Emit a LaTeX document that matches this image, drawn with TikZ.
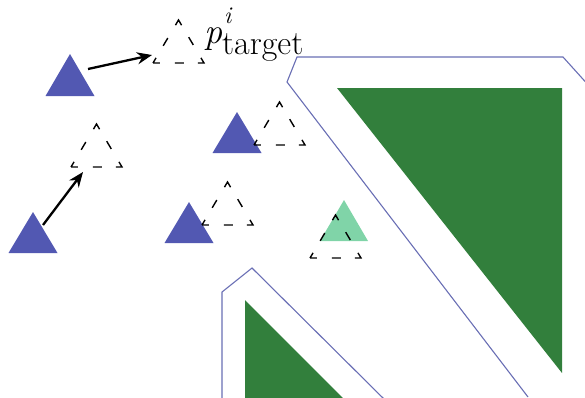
\documentclass[tikz,border=0pt]{standalone}
\usepackage{fontspec}
\usetikzlibrary{arrows.meta}
\definecolor{robotblue}{RGB}{82,88,178}
\definecolor{ghostgreen}{RGB}{128,212,168}
\definecolor{obstgreen}{RGB}{50,127,60}
\definecolor{inflline}{RGB}{105,110,180}
\tikzset{
  bluetri/.style={fill=robotblue},
  minttri/.style={fill=ghostgreen},
  dashtri/.style={draw=black, line width=1.4pt, dash pattern=on 12pt off 14pt on 9pt off 15pt, dash phase=6pt},
  obstacle/.style={fill=obstgreen},
  inflated/.style={draw=inflline, line width=1.1pt, line join=miter},
  moveto/.style={-{Stealth[length=15pt,width=12pt]}, line width=2.3pt, black}
}
\begin{document}
\begin{tikzpicture}[x=1pt,y=-1pt]
\useasboundingbox (0,0) rectangle (585,397);
\begin{scope}
\clip (0,0) rectangle (585,397);
% obstacles
\fill[obstacle] (337,88) -- (562,88) -- (562,373) -- cycle;
\fill[obstacle] (245,300) -- (245,420) -- (365,420) -- cycle;
% inflated outlines
\draw[inflated] (528,397) -- (287,82) -- (297,57) -- (563,57) -- (600,98);
\draw[inflated] (222,400) -- (222,292) -- (252,268) -- (385,400);
\end{scope}
% robots
\fill[bluetri] (70,54) -- ++(24.5,42) -- ++(-49,0) -- cycle;
\fill[bluetri] (33,212) -- ++(24.5,41) -- ++(-49,0) -- cycle;
\fill[bluetri] (237,112) -- ++(24.5,41) -- ++(-49,0) -- cycle;
\fill[bluetri] (189,202) -- ++(24.5,41) -- ++(-49,0) -- cycle;
\fill[minttri] (344,200) -- ++(24,41) -- ++(-48,0) -- cycle;
% targets
\draw[dashtri] (153,63) -- ++(25.5,-43) -- ++(25.5,43) -- cycle;
\draw[dashtri] (71,167) -- ++(25.5,-43) -- ++(25.5,43) -- cycle;
\draw[dashtri] (254,145) -- ++(25.5,-43) -- ++(25.5,43) -- cycle;
\draw[dashtri] (202,225) -- ++(25.5,-43) -- ++(25.5,43) -- cycle;
\draw[dashtri] (310,258) -- ++(25.5,-43) -- ++(25.5,43) -- cycle;
% arrows
\coordinate (r1) at (88,69);
\coordinate (t1) at (152,55);
\coordinate (r2) at (43,225);
\coordinate (t2) at (83,172);
\draw[moveto] (r1) -- (t1);
\draw[moveto] (r2) -- (t2);
% label
\node[anchor=base west, inner sep=0pt] (lbl) at (204,43)
  {{\fontsize{36}{36}\selectfont\itshape p}\kern0pt\rlap{\kern2pt\raisebox{20pt}{\fontsize{24}{24}\selectfont\itshape i}}\raisebox{-11pt}{\fontsize{34}{34}\selectfont target}};
\end{tikzpicture}
\end{document}
